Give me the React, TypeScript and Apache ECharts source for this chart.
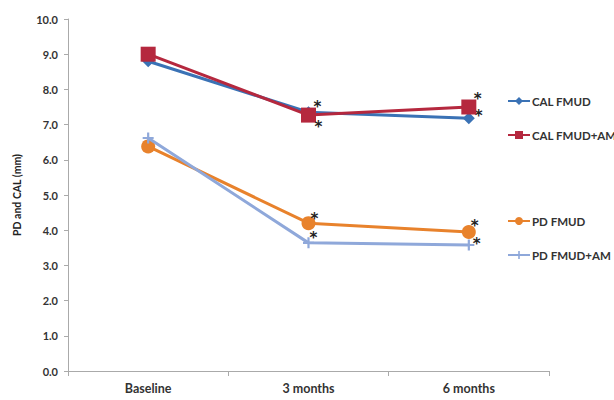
import React, { useEffect, useRef } from "react";
import * as echarts from "echarts";

const timepoints = ["Baseline", "3 months", "6 months"];
const calFmud = [8.8, 7.35, 7.18];
const calFmudAm = [9.0, 7.27, 7.5];
const pdFmud = [6.38, 4.2, 3.95];
const pdFmudAm = [6.62, 3.64, 3.58];
// significance marks per point: offset of the "*" label (null = none)
const starCalFmud: (number[] | null)[] = [null, [11, -7], [12, -4]];
const starCalFmudAm: (number[] | null)[] = [null, [13.5, 12], [12.5, -8.5]];
const starPdFmud: (number[] | null)[] = [null, [9, -5], [9, -6]];
const starPdFmudAm: (number[] | null)[] = [null, [6.5, -6.5], [9.5, -2.5]];

const FONT = "Lato";
const plusPath = "path://M4,0H6V4H10V6H6V10H4V6H0V4H4Z";

function withStars(values: number[], stars: (number[] | null)[]) {
  return values.map((v, i) => {
    const s = stars[i];
    if (!s) return v;
    return {
      value: v,
      label: {
        show: true,
        formatter: "*",
        position: s,
        color: "#222",
        fontSize: 15,
        fontWeight: "bold",
        fontFamily: "DejaVu Sans",
      },
    };
  });
}

export default function App() {
  const ref = useRef<HTMLDivElement>(null);
  useEffect(() => {
    if (!ref.current) return;
    const chart = echarts.init(ref.current, undefined, { renderer: "svg" });
    const legendText = { fontFamily: FONT, fontSize: 11.5, fontWeight: "bold", color: "#333" };
    const mkLegend = (name: string, top: number) => ({
      data: [name],
      left: 507,
      top,
      orient: "vertical",
      itemWidth: 22,
      itemHeight: 10,
      itemGap: 4,
      padding: 0,
      textStyle: { ...legendText, padding: [0, 0, 0, -3] },
    });
    chart.setOption({
      animation: false,
      backgroundColor: "#fff",
      grid: { left: 68, top: 19, right: 65, bottom: 29 },
      legend: [
        mkLegend("CAL FMUD", 95),
        mkLegend("CAL FMUD+AM", 129),
        mkLegend("PD FMUD", 215),
        mkLegend("PD FMUD+AM", 249),
      ],
      xAxis: {
        type: "category",
        data: timepoints,
        boundaryGap: true,
        axisLine: { lineStyle: { color: "#aaa", width: 1 } },
        axisTick: { show: true, length: 5, lineStyle: { color: "#aaa" } },
        axisLabel: {
          fontFamily: FONT,
          fontSize: 12.5,
          fontWeight: "bold",
          color: "#333",
          margin: 11,
        },
      },
      yAxis: {
        type: "value",
        min: 0,
        max: 10,
        interval: 1,
        name: "PD and CAL (mm)",
        nameLocation: "middle",
        nameGap: 46,
        nameTextStyle: { fontFamily: FONT, fontSize: 10.5, fontWeight: "bold", color: "#222" },
        axisLine: { show: true, lineStyle: { color: "#aaa" } },
        axisTick: { show: true, length: 4, lineStyle: { color: "#aaa" } },
        splitLine: { show: false },
        axisLabel: {
          formatter: (v: number) => v.toFixed(1),
          fontFamily: FONT,
          fontSize: 11,
          fontWeight: "bold",
          color: "#333",
          margin: 10,
        },
      },
      series: [
        {
          name: "CAL FMUD",
          type: "line",
          data: withStars(calFmud, starCalFmud),
          symbol: "diamond",
          symbolSize: 12,
          color: "#3A72B5",
          lineStyle: { width: 3, color: "#3A72B5" },
          itemStyle: { color: "#3A72B5" },
          z: 2,
        },
        {
          name: "CAL FMUD+AM",
          type: "line",
          data: withStars(calFmudAm, starCalFmudAm),
          symbol: "rect",
          symbolSize: 15,
          color: "#B5283E",
          lineStyle: { width: 3, color: "#B5283E" },
          itemStyle: { color: "#B5283E" },
          z: 3,
        },
        {
          name: "PD FMUD",
          type: "line",
          data: withStars(pdFmud, starPdFmud),
          symbol: "circle",
          symbolSize: 14,
          color: "#E8822C",
          lineStyle: { width: 3, color: "#E8822C" },
          itemStyle: { color: "#E8822C" },
          z: 2,
        },
        {
          name: "PD FMUD+AM",
          type: "line",
          data: withStars(pdFmudAm, starPdFmudAm),
          symbol: plusPath,
          symbolSize: 11,
          color: "#8FA8DA",
          lineStyle: { width: 3, color: "#8FA8DA" },
          itemStyle: { color: "#8FA8DA" },
          z: 3,
        },
      ],
    });
    return () => chart.dispose();
  }, []);
  return <div ref={ref} style={{ width: 614, height: 400, position: "absolute", left: 0, top: 0 }} />;
}
